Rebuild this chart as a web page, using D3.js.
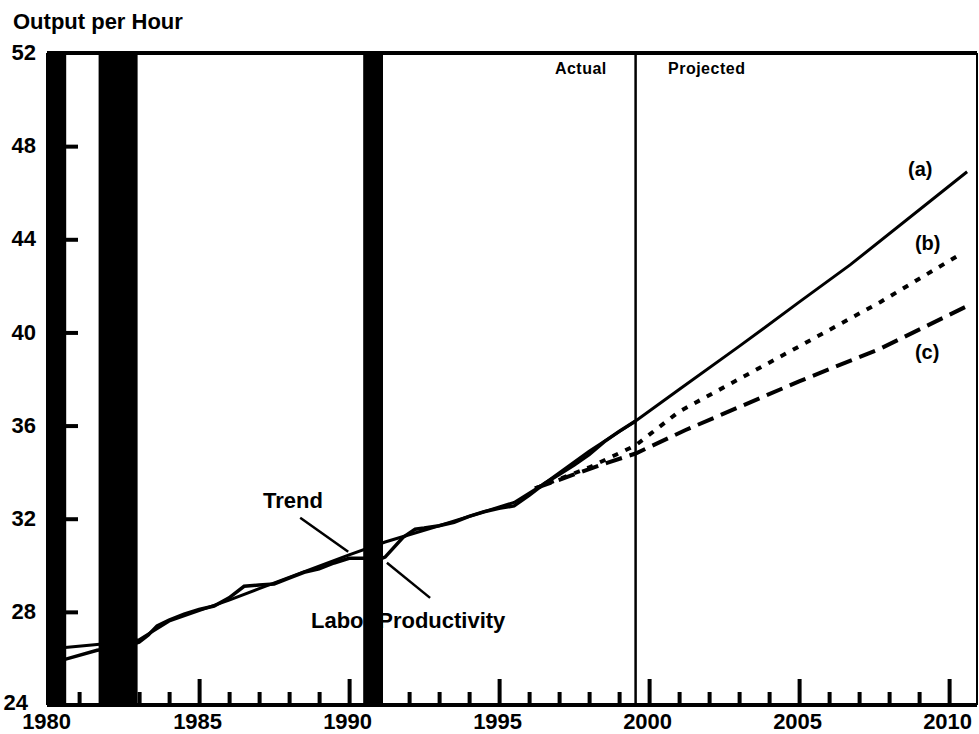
<!DOCTYPE html>
<html>
<head>
<meta charset="utf-8">
<script src="https://cdn.jsdelivr.net/npm/d3@7"></script>
<style>
  body { margin: 0; background: #fff; }
  svg { display: block; }
  text { font-family: "Liberation Sans", Arial, sans-serif; font-weight: bold; fill: #000; }
</style>
</head>
<body>
<svg id="chart" width="979" height="734"></svg>
<script>
// labor productivity, actual
var actualYears = [1980.0, 1980.5, 1981.6, 1982.5, 1983.0, 1983.3, 1983.6, 1984.0, 1984.5, 1985.0, 1985.5, 1986.0, 1986.5, 1987.0, 1987.5, 1988.0, 1988.5, 1989.0, 1989.5, 1990.0, 1990.5, 1991.0, 1991.2, 1991.8, 1992.2, 1992.5, 1993.0, 1993.5, 1994.0, 1994.5, 1995.0, 1995.5, 1996.0, 1996.5, 1997.0, 1997.5, 1998.0, 1998.5, 1999.0, 1999.55];
var actualValues = [25.95, 25.95, 26.35, 26.5, 26.7, 27.0, 27.4, 27.65, 27.9, 28.1, 28.25, 28.6, 29.1, 29.15, 29.2, 29.45, 29.7, 29.85, 30.1, 30.3, 30.3, 30.25, 30.35, 31.2, 31.55, 31.6, 31.7, 31.85, 32.1, 32.3, 32.45, 32.55, 33.0, 33.5, 33.9, 34.3, 34.75, 35.3, 35.75, 36.2];

// trend, continuing as projection (a)
var trendYears = [1980.0, 1981.6, 1983.0, 1984.0, 1986.0, 1987.0, 1990.0, 1991.2, 1993.0, 1995.5, 1996.5, 1998.0, 1999.55, 2001.0, 2003.0, 2005.0, 2006.7, 2010.6];
var trendValues = [26.4, 26.6, 26.8, 27.6, 28.5, 29.0, 30.45, 31.0, 31.7, 32.7, 33.5, 34.9, 36.2, 37.55, 39.4, 41.3, 42.9, 46.9];

// projection (b), dotted
var projBYears = [1996.2, 1998.0, 1999.55, 2001.0, 2003.0, 2005.0, 2007.7, 2010.3];
var projBValues = [33.3, 34.2, 35.15, 36.6, 38.0, 39.4, 41.3, 43.3];

// projection (c), dashed
var projCYears = [1996.2, 1997.5, 1998.6, 1999.55, 2001.2, 2005.0, 2007.7, 2010.55];
var projCValues = [33.3, 33.9, 34.4, 34.8, 35.8, 37.9, 39.3, 41.1];

// recessions (shaded bars)
var recessionStarts = [1979.93, 1981.65, 1990.47];
var recessionEnds = [1980.57, 1982.95, 1991.13];

var yTickValues = [24, 28, 32, 36, 40, 44, 48, 52];
var xTickYears = d3.range(1980, 2011);
var splitYear = 1999.55;

function drawChart() {
    var svg = d3.select("#chart");

    var x = d3.scaleLinear().domain([1979.93, 2010.93]).range([47, 977]);
    var y = d3.scaleLinear().domain([24, 52]).range([705, 53]);

    svg.append("text")
        .attr("x", 13).attr("y", 29)
        .style("font-size", "22px")
        .text("Output per Hour");

    // frame
    svg.append("line")
        .attr("x1", x.range()[0]).attr("x2", x.range()[1])
        .attr("y1", y(52)).attr("y2", y(52))
        .attr("stroke", "#000").attr("stroke-width", 4);
    svg.append("line")
        .attr("x1", x.range()[1]).attr("x2", x.range()[1])
        .attr("y1", y(52)).attr("y2", y(24))
        .attr("stroke", "#000").attr("stroke-width", 2);
    svg.append("line")
        .attr("x1", x.range()[0]).attr("x2", x.range()[0])
        .attr("y1", y(52)).attr("y2", y(24))
        .attr("stroke", "#000").attr("stroke-width", 2);

    // x axis, ticks pointing up
    var xAxis = d3.axisBottom(x)
        .tickValues(xTickYears)
        .tickSizeInner(-13)
        .tickSizeOuter(0)
        .tickPadding(7)
        .tickFormat(function(d) { return d % 5 === 0 ? d : ""; });

    var gx = svg.append("g")
        .attr("transform", "translate(0," + y(24) + ")")
        .call(xAxis);
    gx.select(".domain").remove();
    gx.selectAll(".tick line")
        .attr("stroke-width", 4)
        .attr("y2", function(d) { return d % 5 === 0 ? -26 : -13; });
    gx.selectAll(".tick text")
        .attr("dy", "0.76em")
        .attr("dx", function(d) { return d === 1980 ? -3 : -2; })
        .style("font-size", "22px")
        .style("font-family", "\"Liberation Sans\", Arial, sans-serif");

    svg.append("line")
        .attr("x1", x.range()[0]).attr("x2", x.range()[1])
        .attr("y1", y(24)).attr("y2", y(24))
        .attr("stroke", "#000").attr("stroke-width", 4);

    // y axis, ticks pointing right
    var yAxis = d3.axisLeft(y)
        .tickValues(yTickValues)
        .tickSizeInner(-31)
        .tickSizeOuter(0)
        .tickPadding(11);

    var gy = svg.append("g")
        .attr("transform", "translate(" + x.range()[0] + ",0)")
        .call(yAxis);
    gy.select(".domain").remove();
    gy.selectAll(".tick line")
        .attr("stroke-width", 4)
        .attr("display", function(d) { return d === 24 || d === 52 ? "none" : null; });
    gy.selectAll(".tick text")
        .style("font-size", "22px")
        .style("font-family", "\"Liberation Sans\", Arial, sans-serif")
        .attr("dx", function(d) { return d === 24 ? -8 : 0; })
        .attr("dy", function(d) { return d === 24 ? "0.2em" : "0.3em"; });

    var line = d3.line()
        .x(function(d) { return x(d[0]); })
        .y(function(d) { return y(d[1]); });

    var trend = d3.zip(trendYears, trendValues);
    var actual = d3.zip(actualYears, actualValues);
    var projB = d3.zip(projBYears, projBValues);
    var projC = d3.zip(projCYears, projCValues);

    svg.append("path").datum(projC)
        .attr("d", line)
        .attr("fill", "none").attr("stroke", "#000")
        .attr("stroke-width", 4)
        .attr("stroke-dasharray", "17,8");

    svg.append("path").datum(projB)
        .attr("d", line)
        .attr("fill", "none").attr("stroke", "#000")
        .attr("stroke-width", 4)
        .attr("stroke-dasharray", "6,8");

    svg.append("path").datum(trend)
        .attr("d", line)
        .attr("fill", "none").attr("stroke", "#000")
        .attr("stroke-width", 3);

    svg.append("path").datum(actual)
        .attr("d", line)
        .attr("fill", "none").attr("stroke", "#000")
        .attr("stroke-width", 3.5);

    // labels
    var labels = [
        {text: "Trend", year: 1987.13, value: 32.47, size: 22},
        {text: "Labor Productivity", year: 1988.73, value: 27.3, size: 22},
        {text: "(a)", year: 2008.63, value: 46.7, size: 20},
        {text: "(b)", year: 2008.86, value: 43.55, size: 20},
        {text: "(c)", year: 2008.86, value: 38.85, size: 20},
        {text: "Actual", year: 1996.86, value: 51.1, size: 16},
        {text: "Projected", year: 2000.63, value: 51.1, size: 16}
    ];
    svg.selectAll(".label")
        .data(labels)
        .enter().append("text")
        .attr("class", "label")
        .attr("x", function(d) { return x(d.year); })
        .attr("y", function(d) { return y(d.value); })
        .style("font-size", function(d) { return d.size + "px"; })
        .style("letter-spacing", function(d) { return d.size === 16 ? "0.5px" : null; })
        .text(function(d) { return d.text; });

    var leaders = [
        [[1988.37, 32.04], [1989.97, 30.58]],
        [[1991.26, 30.11], [1992.7, 28.6]]
    ];
    svg.selectAll(".leader")
        .data(leaders)
        .enter().append("path")
        .attr("class", "leader")
        .attr("d", line)
        .attr("stroke", "#000").attr("stroke-width", 2.5);

    // recession bars drawn over everything
    svg.selectAll(".recession")
        .data(d3.zip(recessionStarts, recessionEnds))
        .enter().append("rect")
        .attr("class", "recession")
        .attr("x", function(d) { return x(d[0]); })
        .attr("width", function(d) { return x(d[1]) - x(d[0]); })
        .attr("y", y(52))
        .attr("height", y(24) - y(52))
        .attr("fill", "#000");

    // actual / projected divider
    svg.append("line")
        .attr("x1", x(splitYear)).attr("x2", x(splitYear))
        .attr("y1", y(52)).attr("y2", y(24))
        .attr("stroke", "#000").attr("stroke-width", 2.5);
}

drawChart();
</script>
</body>
</html>
